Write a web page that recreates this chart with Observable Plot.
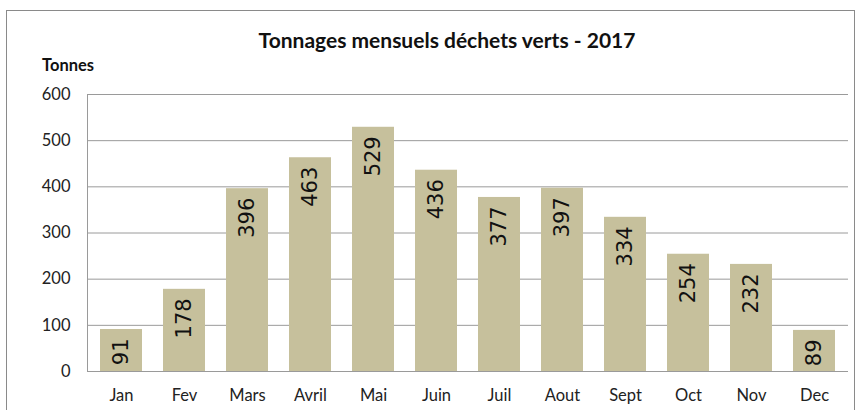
<!DOCTYPE html>
<html><head><meta charset="utf-8">
<script src="https://cdn.jsdelivr.net/npm/d3@7"></script>
<script src="https://cdn.jsdelivr.net/npm/@observablehq/plot@0.6"></script>
<style>
body{margin:0;background:#fff;width:861px;height:410px;overflow:hidden;position:relative;font-family:Lato,"Open Sans",sans-serif;}
#frame{position:absolute;left:6px;top:10px;width:849px;height:420px;border:1px solid #8a8a8a;box-sizing:border-box;}
#title{position:absolute;left:0;width:894px;top:27px;text-align:center;font-weight:bold;font-size:21px;color:#111;}
#unit{position:absolute;left:42px;top:55px;font-weight:bold;font-size:16.5px;color:#111;}
#chart{position:absolute;left:0;top:0;}
</style></head>
<body>
<div id="frame"></div>
<div id="title">Tonnages mensuels déchets verts - 2017</div>
<div id="unit">Tonnes</div>
<div id="chart"></div>
<script>
const months = ["Jan","Fev","Mars","Avril","Mai","Juin","Juil","Aout","Sept","Oct","Nov","Dec"];
const tonnes = [91,178,396,463,529,436,377,397,334,254,232,89];
const yTicks = [0,100,200,300,400,500,600];
const data = months.map((m,i)=>({month:m, value:tonnes[i]}));
const chart = Plot.plot({
  width:861, height:410,
  marginLeft:87, marginRight:13, marginTop:94, marginBottom:39,
  style:{background:"transparent", fontFamily:"Lato, 'Open Sans', sans-serif", fontSize:"16.5px", color:"#222"},
  x:{domain:months, paddingInner:0.34, paddingOuter:0.17, label:null, tickSize:0, tickPadding:18},
  y:{domain:[0,600], ticks:yTicks, label:null, tickSize:0, tickPadding:17},
  marks:[
    Plot.gridY(yTicks, {stroke:"#9a9a9a", strokeOpacity:1, strokeWidth:1}),
    Plot.frame({anchor:"left", stroke:"#9a9a9a"}),
    Plot.barY(data, {x:"month", y:"value", fill:"#c6c09c"}),
    Plot.text(data, {x:"month", y:"value", text:d=>String(d.value), rotate:-90, textAnchor:"end", dy:9, fontSize:21, fontFamily:"DejaVu Sans", fill:"#111"})
  ]
});
document.getElementById("chart").appendChild(chart);
</script>
</body></html>
